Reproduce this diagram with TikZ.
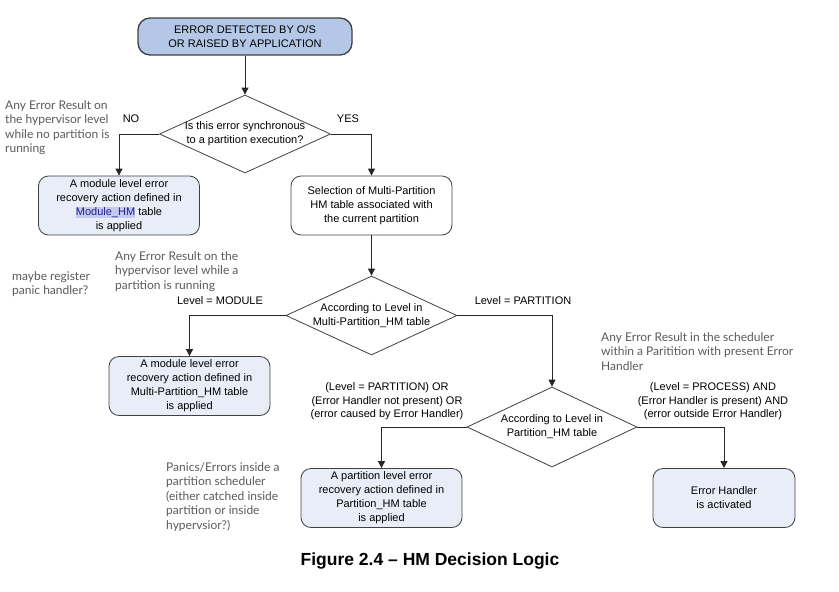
\documentclass[tikz,border=0pt]{standalone}
\usepackage{fontspec}
\setmainfont{Liberation Sans}
\newfontfamily\annofont{Lato}
\usetikzlibrary{shapes.geometric,arrows.meta}
\definecolor{topfill}{HTML}{B4C7E7}
\definecolor{boxfill}{HTML}{E8EDF7}
\definecolor{border}{HTML}{404040}
\definecolor{annot}{HTML}{5A5A5A}
\definecolor{hlbg}{HTML}{C5CBF0}
\definecolor{hltext}{HTML}{20208A}
\begin{document}
\begin{tikzpicture}[x=1pt,y=-1pt,
  base/.style={align=center, font=\fontsize{11}{14}\selectfont, inner sep=0pt},
  box/.style={base, draw=border, rounded corners=10pt, line width=0.8pt, minimum width=161, minimum height=59},
  bluebox/.style={box, fill=boxfill},
  topbox/.style={base, draw=border, fill=topfill, rounded corners=12pt, line width=1.3pt, minimum width=214, minimum height=37},
  decision/.style={draw=border, shape=diamond, line width=0.8pt, inner sep=0pt},
  lbl/.style={base, font=\fontsize{11}{13.5}\selectfont},
  anno/.style={anchor=north west, align=left, inner sep=0pt, text=annot, font=\annofont\fontsize{12}{14.6}\selectfont},
  arr/.style={draw=black!85, line width=0.8pt, -{Triangle[length=7pt,width=7pt]}}
]
\useasboundingbox (0,0) rectangle (839,592);

\node[topbox] (top) at (245,36.5) {ERROR DETECTED BY O/S\\OR RAISED BY APPLICATION};
\node[decision, minimum width=171, minimum height=78] (d1) at (245,134) {};
\node[base] (d1t) at (d1.center) {Is this error synchronous\\to a partition execution?};
\node[bluebox] (b1) at (119,205.5) {A module level error\\recovery action defined in\\{\fboxsep=0pt\colorbox{hlbg}{\color{hltext}Module\_HM}} table\\is applied};
\node[box] (b2) at (371.5,205.5) {Selection of Multi-Partition\\HM table associated with\\the current partition};
\node[decision, minimum width=171, minimum height=79] (d2) at (371.5,315.5) {};
\node[base] (d2t) at (d2.center) {According to Level in\\Multi-Partition\_HM table};
\node[bluebox] (b3) at (189.5,386) {A module level error\\recovery action defined in\\Multi-Partition\_HM table\\is applied};
\node[decision, minimum width=170, minimum height=80] (d3) at (552,427) {};
\node[base] (d3t) at (d3.center) {According to Level in\\Partition\_HM table};
\node[bluebox] (b5) at (381.5,498) {A partition level error\\recovery action defined in\\Partition\_HM table\\is applied};
\node[bluebox, minimum width=142] (b6) at (724,498) {Error Handler\\is activated};

\draw[arr] (top) -- (d1);
\draw[arr] (d1.west) -| (b1);
\draw[arr] (d1.east) -| (b2);
\draw[arr] (b2) -- (d2);
\draw[arr] (d2.west) -| (b3);
\draw[arr] (d2.east) -| (d3);
\draw[arr] (d3.west) -| (b5);
\draw[arr] (d3.east) -| (b6);

\node[lbl] (no) at (131,119) {NO};
\node[lbl] (yes) at (348,119) {YES};
\node[lbl] (lmod) at (220,301) {Level = MODULE};
\node[lbl] (lpart) at (523,301) {Level = PARTITION};
\node[lbl] (cleft) at (387,401.5) {(Level = PARTITION) OR\\(Error Handler not present) OR\\(error caused by Error Handler)};
\node[lbl] (cright) at (713,401.5) {(Level = PROCESS) AND\\(Error Handler is present) AND\\(error outside Error Handler)};

\node[anno] (a1) at (5,100) {Any Error Result on\\the hypervisor level\\while no partition is\\running};
\node[anno] (a2) at (115,251) {Any Error Result on the\\hypervisor level while a\\partition is running};
\node[anno] (a3) at (12,271) {maybe register\\panic handler?};
\node[anno] (a4) at (601,332) {Any Error Result in the scheduler\\within a Paritition with present Error\\Handler};
\node[anno] (a5) at (166,462) {Panics/Errors inside a\\partition scheduler\\(either catched inside\\partition or inside\\hypervsior?)};

\node[font=\bfseries\fontsize{17.5}{20}\selectfont, inner sep=0pt] (cap) at (430,561) {Figure 2.4 -- HM Decision Logic};
\end{tikzpicture}
\end{document}
